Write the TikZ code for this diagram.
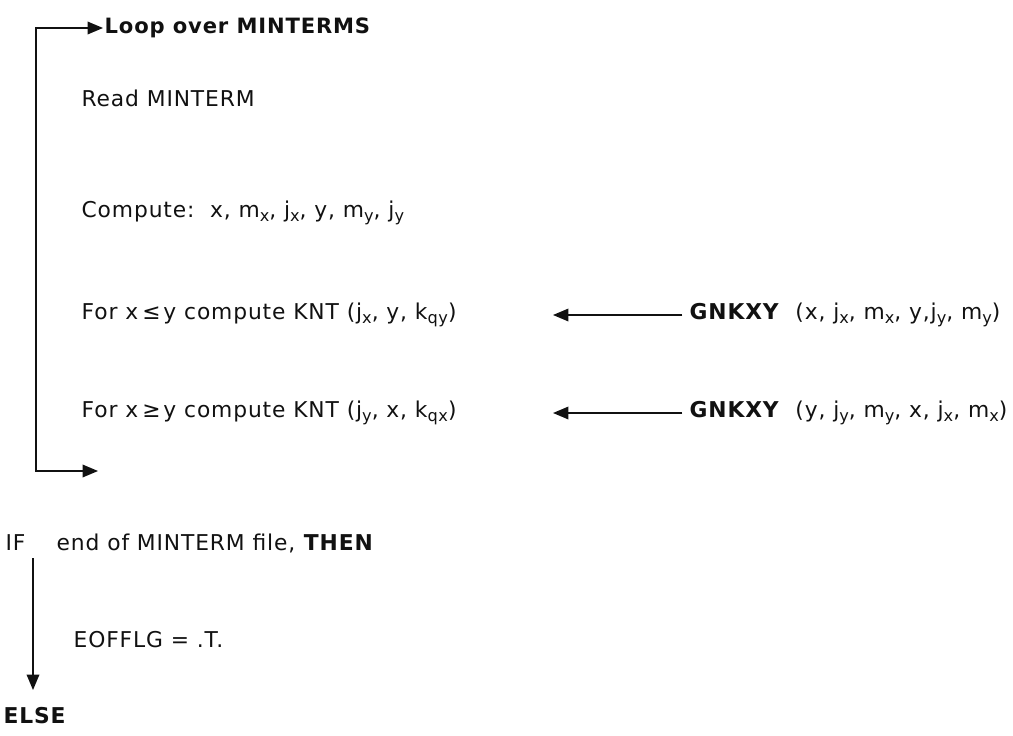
\documentclass[tikz,border=0pt]{standalone}
\usepackage{fontspec}
\setmainfont{DejaVu Sans}[LetterSpace=4]
\newfontfamily\symfont{DejaVu Sans}
\usetikzlibrary{arrows.meta,calc,positioning}
\definecolor{ink}{HTML}{111111}
\newcommand{\sub}[1]{\raisebox{-0.28ex}{\fontsize{11.5}{12}\selectfont #1}}

\begin{document}
\begin{tikzpicture}[font=\fontsize{15.5}{17}\selectfont,text=ink,
  >={Triangle[length=11pt,width=9pt]},
  flow/.style={->,draw=ink,line width=1pt},
  stmt/.style={anchor=west,inner sep=1pt}]
  \useasboundingbox (0,0) rectangle (25.325,18.375);
  % loop body
  \node[stmt,font=\fontsize{15}{17}\selectfont\bfseries] (loop) at (2.575,17.675) {Loop over MINTERMS};
  \node[stmt] (read) at (2.0,15.925) {Read MINTERM};
  \node[stmt] (comp) at (2.0,13.05) {Compute:\ \ x, m\sub{x}, j\sub{x}, y, m\sub{y}, j\sub{y}};
  \node[stmt] (forle) at (2.0,10.5) {For x\kern3pt{\symfont ≤}\kern2pt y compute KNT (j\sub{x}, y, k\sub{qy})};
  \node[stmt] (forge) at (2.0,8.05) {For x\kern3pt{\symfont ≥}\kern2pt y compute KNT (j\sub{y}, x, k\sub{qx})};
  \coordinate (loopcorner) at (0.9,6.6);
  \coordinate (loopend) at (2.45,6.6);
  \draw[flow,<->] (loop.west) -| (loopcorner) -- (loopend);

  % subroutine calls
  \node[stmt] (callxy) at (17.2,10.5) {\textbf{GNKXY}\ \ (x, j\sub{x}, m\sub{x}, y,j\sub{y}, m\sub{y})};
  \node[stmt] (callyx) at (17.2,8.05) {\textbf{GNKXY}\ \ (y, j\sub{y}, m\sub{y}, x, j\sub{x}, m\sub{x})};
  \coordinate (tipxy) at (13.825,10.5);
  \coordinate (tipyx) at (13.825,8.05);
  \draw[flow] ([xshift=-4pt]callxy.west) -- (tipxy);
  \draw[flow] ([xshift=-4pt]callyx.west) -- (tipyx);

  % end of file test
  \node[stmt] (iftest) at (0.1,4.8) {IF\ \ \ \ end of MINTERM file, \textbf{THEN}};
  \node[stmt] (eof) at (1.8,2.375) {EOFFLG = .T.};
  \node[stmt] (else) at (0.05,0.475) {\textbf{ELSE}};
  \coordinate (thenstart) at (0.825,4.425);
  \coordinate (thenend) at (0.825,1.125);
  \draw[flow] (thenstart) -- (thenend);
\end{tikzpicture}
\end{document}
